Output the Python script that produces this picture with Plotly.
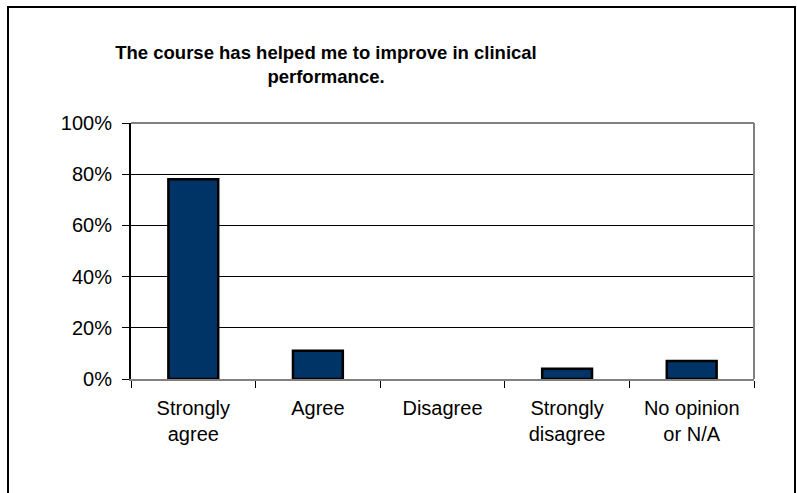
import plotly.graph_objects as go

# survey answers (share of respondents)
categories = ["Strongly<br>agree", "Agree", "Disagree", "Strongly<br>disagree", "No opinion<br>or N/A"]
shares = [0.78, 0.11, 0.0, 0.04, 0.07]
y_ticks = [0, 0.2, 0.4, 0.6, 0.8, 1.0]
y_labels = ["0%", "20%", "40%", "60%", "80%", "100%"]
title_text = "The course has helped me to improve in clinical<br>performance."

font_family = "Liberation Sans, Arial, sans-serif"

fig = go.Figure()
fig.add_trace(go.Bar(x=categories, y=shares, marker_color="#003366",
                     marker_line=dict(color="black",
                                      width=[2.5 if v > 0 else 0 for v in shares]),
                     showlegend=False))

fig.update_layout(
    width=797, height=493,
    margin=dict(l=131, r=43, t=123, b=114),
    plot_bgcolor="white", paper_bgcolor="white",
    bargap=0.6,
    font=dict(family=font_family, size=20, color="black"),
    title=dict(text="<b>" + title_text + "</b>", x=326 / 797, xanchor="center",
               y=1 - 59 / 493, yanchor="middle",
               font=dict(family=font_family, size=18.5, color="black")),
)
fig.update_yaxes(range=[0, 1.0], tickvals=y_ticks, ticktext=y_labels,
                 showgrid=True, gridcolor="black", gridwidth=1,
                 showline=True, linecolor="black", linewidth=2,
                 ticks="outside", ticklen=7, tickcolor="black", tickwidth=1,
                 ticklabelstandoff=6, zeroline=False, fixedrange=True)
fig.update_xaxes(showline=True, linecolor="#808080", linewidth=2,
                 ticks="outside", tickson="boundaries", ticklen=7,
                 tickcolor="black", tickwidth=1, ticklabelstandoff=10,
                 showgrid=False)

# grey frame on the top and right of the plot area
fig.add_shape(type="line", xref="paper", yref="paper", x0=0, x1=1, y0=1, y1=1,
              line=dict(color="#808080", width=2))
fig.add_shape(type="line", xref="paper", yref="paper", x0=1, x1=1, y0=0, y1=1,
              line=dict(color="#808080", width=2))
# outer chart border
fig.add_shape(type="rect", xref="paper", yref="paper",
              x0=(8 - 131) / 623, x1=(795 - 131) / 623,
              y0=(379 - 520) / 256, y1=(379 - 7) / 256,
              line=dict(color="black", width=2))

fig.write_html("out.html", config={"displayModeBar": False},
               post_script="document.body.style.margin = '0px';")
